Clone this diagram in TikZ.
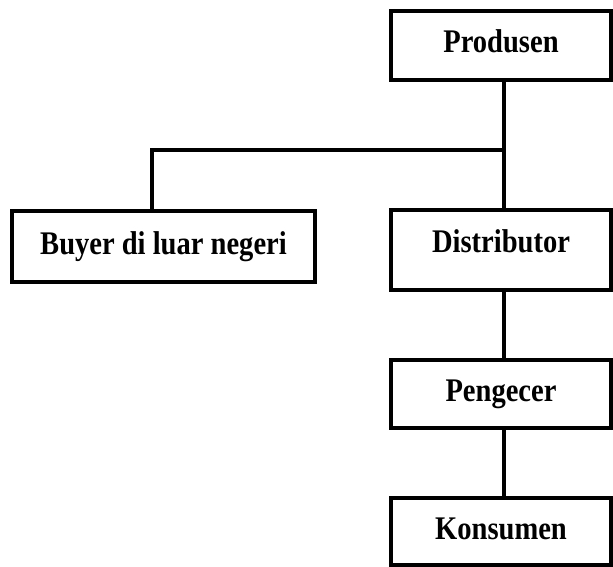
\documentclass[tikz,border=0pt]{standalone}
\usepackage{fontspec}
\setmainfont{Liberation Serif}[FakeStretch=0.865]
\begin{document}
\begin{tikzpicture}[x=1pt,y=-1pt,
  box/.style={draw=black,line width=3.5pt,rectangle,inner sep=0pt,
    font=\fontsize{33}{33}\selectfont\bfseries,text height=22pt,text depth=7pt},
  conn/.style={draw=black,line width=3.5pt}]
\useasboundingbox (0,0) rectangle (613,567);
\node[box,minimum width=220pt,minimum height=69pt] (prod) at (501,45.5) {Produsen};
\node[box,minimum width=303pt,minimum height=71pt] (buyer) at (163.5,246.5) {Buyer di luar negeri};
\node[box,minimum width=220pt,minimum height=80pt,text depth=18pt] (dist) at (501,250) {Distributor};
\node[box,minimum width=220pt,minimum height=68pt] (peng) at (501,394) {Pengecer};
\node[box,minimum width=220pt,minimum height=67pt] (kons) at (501,531.5) {Konsumen};
\coordinate (j) at (504,150);
\coordinate (bk) at (152,150);
\draw[conn] ([xshift=3pt]prod.south) -- ([xshift=3pt]dist.north);
\draw[conn] (j) -- (bk) -- (bk |- buyer.north);
\draw[conn] ([xshift=3pt]dist.south) -- ([xshift=3pt]peng.north);
\draw[conn] ([xshift=3pt]peng.south) -- ([xshift=3pt]kons.north);
\end{tikzpicture}
\end{document}
